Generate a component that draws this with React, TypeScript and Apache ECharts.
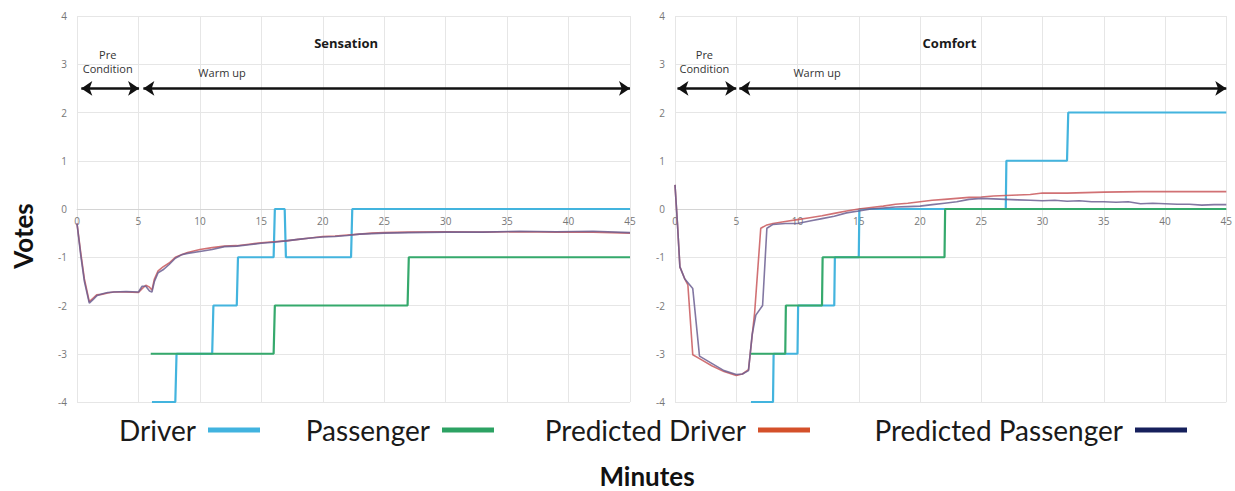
import React, { useEffect, useRef } from 'react';
import * as echarts from 'echarts';

type Pt = [number, number];

const seriesNames = ['Driver', 'Passenger', 'Predicted Driver', 'Predicted Passenger'];
const legendColors = ['#41b3df', '#2ca263', '#d4502a', '#16205c'];
const plotColors = ['#43b4de', '#35a96c', '#c9585c', '#6c5f92'];
const panelTitles = ['Sensation', 'Comfort'];

// Sensation panel
const sensationDriver: Pt[] = [
  [6.1, -4], [8, -4], [8.1, -3], [11, -3], [11.1, -2], [13, -2], [13.1, -1], [16, -1],
  [16.1, 0], [16.9, 0], [17, -1], [22.3, -1], [22.4, 0], [45, 0],
];
const sensationPassenger: Pt[] = [
  [6, -3], [16, -3], [16.1, -2], [26.9, -2], [27, -1], [45, -1],
];
const sensationPredDriver: Pt[] = [
  [0, -0.3], [0.3, -0.9], [0.6, -1.45], [1.0, -1.92], [1.3, -1.85], [1.6, -1.78], [2, -1.77],
  [2.5, -1.74], [3, -1.72], [4, -1.72], [5, -1.73], [5.3, -1.65], [5.6, -1.58], [5.9, -1.62],
  [6.1, -1.68], [6.3, -1.45], [6.6, -1.28], [7, -1.2], [7.5, -1.12], [8, -1.0], [8.5, -0.95],
  [9, -0.9], [10, -0.84], [11, -0.8], [12, -0.77], [13, -0.76], [14, -0.73], [15, -0.7],
  [16, -0.68], [17, -0.66], [18, -0.63], [19, -0.6], [20, -0.57], [21, -0.56], [22, -0.54],
  [23, -0.52], [24, -0.5], [25, -0.49], [27, -0.48], [30, -0.47], [33, -0.48], [36, -0.47],
  [39, -0.48], [42, -0.48], [45, -0.5],
];
const sensationPredPassenger: Pt[] = [
  [0, -0.3], [0.3, -0.95], [0.6, -1.5], [1.0, -1.95], [1.3, -1.88], [1.6, -1.8], [2, -1.76],
  [2.5, -1.73], [3, -1.72], [4, -1.71], [5, -1.72], [5.3, -1.6], [5.6, -1.6], [5.9, -1.7],
  [6.1, -1.72], [6.3, -1.5], [6.6, -1.32], [7, -1.26], [7.5, -1.15], [8, -1.02], [8.5, -0.95],
  [9, -0.92], [10, -0.88], [11, -0.84], [12, -0.78], [13, -0.77], [14, -0.74], [15, -0.71],
  [16, -0.69], [17, -0.66], [18, -0.63], [19, -0.6], [20, -0.58], [21, -0.57], [22, -0.55],
  [23, -0.52], [24, -0.51], [25, -0.5], [27, -0.49], [30, -0.48], [33, -0.48], [36, -0.46],
  [39, -0.47], [42, -0.46], [45, -0.49],
];

// Comfort panel
const comfortDriver: Pt[] = [
  [6.2, -4], [8, -4], [8.05, -3], [10, -3], [10.05, -2], [13, -2], [13.05, -1], [15, -1],
  [15.05, 0], [27, 0], [27.05, 1], [32, 1], [32.1, 2], [45, 2],
];
const comfortPassenger: Pt[] = [
  [6.2, -3], [9, -3], [9.05, -2], [12, -2], [12.05, -1], [22, -1], [22.05, 0], [45, 0],
];
const comfortPredDriver: Pt[] = [
  [0, 0.5], [0.2, -0.3], [0.4, -1.2], [0.8, -1.45], [1.05, -1.57], [1.45, -3.02], [2, -3.1],
  [3, -3.25], [4, -3.37], [5, -3.45], [5.5, -3.42], [6, -3.33], [6.5, -2.15], [7, -0.4],
  [7.5, -0.33], [8, -0.3], [9, -0.26], [10, -0.22], [11, -0.18], [12, -0.14], [13, -0.09],
  [14, -0.04], [15, 0.0], [16, 0.03], [17, 0.06], [18, 0.1], [19, 0.12], [20, 0.15],
  [21, 0.18], [22, 0.2], [23, 0.22], [24, 0.24], [25, 0.25], [26, 0.27], [27, 0.28],
  [28, 0.29], [29, 0.3], [30, 0.33], [32, 0.33], [35, 0.35], [38, 0.36], [40, 0.36],
  [42, 0.36], [45, 0.36],
];
const comfortPredPassenger: Pt[] = [
  [0, 0.5], [0.2, -0.3], [0.4, -1.2], [0.8, -1.45], [1.45, -1.65], [2.0, -3.05], [3, -3.2],
  [4, -3.35], [5, -3.43], [5.5, -3.42], [6, -3.35], [6.3, -2.6], [6.6, -2.2], [7.15, -2.0],
  [7.5, -0.4], [8, -0.32], [9, -0.3], [10, -0.3], [11, -0.25], [12, -0.2], [13, -0.15],
  [14, -0.08], [15, -0.04], [16, 0.0], [17, 0.02], [18, 0.04], [19, 0.05], [20, 0.06],
  [21, 0.09], [22, 0.12], [23, 0.15], [24, 0.2], [25, 0.22], [26, 0.21], [27, 0.2],
  [28, 0.19], [29, 0.18], [30, 0.17], [31, 0.18], [32, 0.16], [33, 0.17], [34, 0.15],
  [35, 0.15], [36, 0.14], [37, 0.15], [38, 0.11], [39, 0.12], [40, 0.11], [41, 0.1],
  [42, 0.1], [43, 0.08], [44, 0.09], [45, 0.09],
];

// phase arrows [start, end] in minutes at vote level 2.5
const sensationPhases: Pt[] = [[0.35, 5.05], [5.4, 45]];
const comfortPhases: Pt[] = [[0.2, 5.0], [5.25, 45]];
const arrowLevel = 2.5;

const panels = [
  {
    data: [sensationDriver, sensationPassenger, sensationPredDriver, sensationPredPassenger],
    phases: sensationPhases,
    titleAt: [21.9, 3.44] as Pt,
    preAt: [2.5, 3.06] as Pt,
    warmAt: [11.8, 2.82] as Pt,
  },
  {
    data: [comfortDriver, comfortPassenger, comfortPredDriver, comfortPredPassenger],
    phases: comfortPhases,
    titleAt: [22.4, 3.44] as Pt,
    preAt: [2.4, 3.06] as Pt,
    warmAt: [11.6, 2.82] as Pt,
  },
];

const legendIconRight = [260, 494, 810, 1187];

export default function App() {
  const ref = useRef<HTMLDivElement>(null);

  useEffect(() => {
    document.body.style.margin = '0';
    if (!ref.current) return;
    const chart = echarts.init(ref.current, undefined, { renderer: 'svg' });
    const W = 1235;
    const gridTop = 16;
    const gridHeight = 386;
    const yMin = -4;
    const yMax = 4;
    // the x axis sits on the vote = 0 line, as in the reference
    const zeroOffset = -gridHeight * (0 - yMin) / (yMax - yMin);

    const grids = [
      { left: 77, top: gridTop, width: 553, height: gridHeight },
      { left: 675, top: gridTop, width: 553, height: gridHeight },
    ];

    const xAxes = grids.map((_, i) => ({
      type: 'value',
      gridIndex: i,
      min: 0,
      max: 45,
      interval: 5,
      position: 'bottom',
      offset: zeroOffset,
      axisLine: { show: true, onZero: false, lineStyle: { color: '#d4d4d4', width: 1 } },
      axisTick: { show: false },
      axisLabel: {
        color: '#777',
        fontSize: 10,
        fontFamily: 'Open Sans',
        margin: 7,
        showMinLabel: true,
        showMaxLabel: true,
      },
      splitLine: { show: true, lineStyle: { color: '#e6e6e6', width: 1 } },
    }));

    const yAxes = grids.map((_, i) => ({
      type: 'value',
      gridIndex: i,
      min: yMin,
      max: yMax,
      interval: 1,
      axisLine: { show: false },
      axisTick: { show: false },
      axisLabel: { color: '#777', fontSize: 10, fontFamily: 'Open Sans', margin: 10 },
      splitLine: { show: true, lineStyle: { color: '#e6e6e6', width: 1 } },
    }));

    const series: any[] = [];
    panels.forEach((p, pi) => {
      p.data.forEach((d, si) => {
        const predicted = si >= 2;
        const s: any = {
          type: 'line',
          name: seriesNames[si],
          xAxisIndex: pi,
          yAxisIndex: pi,
          data: d,
          showSymbol: false,
          symbol: 'none',
          silent: true,
          z: predicted ? 3 : 2,
          itemStyle: { color: legendColors[si] },
          lineStyle: {
            color: plotColors[si],
            width: predicted ? 1.6 : 2.2,
            opacity: predicted ? 0.85 : 1,
          },
        };
        if (si === 0) {
          s.markLine = {
            silent: true,
            symbol: ['arrow', 'arrow'],
            symbolSize: [11, 11],
            label: { show: false },
            lineStyle: { color: '#111', width: 2.6, type: 'solid' },
            data: p.phases.map((ph) => [
              { coord: [ph[0], arrowLevel] },
              { coord: [ph[1], arrowLevel] },
            ]),
          };
          s.markPoint = {
            silent: true,
            symbol: 'circle',
            symbolSize: 1,
            itemStyle: { color: 'rgba(0,0,0,0)' },
            label: {
              show: true,
              position: 'inside',
              formatter: '{b}',
              color: '#333',
              fontFamily: 'Open Sans',
              fontSize: 11,
              lineHeight: 14,
            },
            data: [
              { name: 'Pre\nCondition', coord: p.preAt },
              { name: 'Warm up', coord: p.warmAt },
              {
                name: panelTitles[pi],
                coord: p.titleAt,
                label: { fontWeight: 'bold', fontSize: 13, color: '#1a1a1a' },
              },
            ],
          };
        }
        series.push(s);
      });
    });

    const legends = seriesNames.map((n, i) => ({
      data: [{ name: n, icon: 'rect', itemStyle: { color: legendColors[i] } }],
      right: W - legendIconRight[i],
      top: 416,
      align: 'right',
      orient: 'horizontal',
      padding: 0,
      itemWidth: 52,
      itemHeight: 5,
      selectedMode: false,
      textStyle: {
        fontFamily: 'Lato',
        fontSize: 28,
        color: '#1a1a1a',
        padding: [0, 7, 0, 0],
      },
    }));

    chart.setOption({
      animation: false,
      backgroundColor: '#fff',
      grid: grids,
      xAxis: xAxes,
      yAxis: yAxes,
      legend: legends,
      series,
      graphic: [
        {
          type: 'text',
          x: 23,
          y: 236,
          rotation: Math.PI / 2,
          style: {
            text: 'Votes',
            fontFamily: 'Lato',
            fontWeight: 'bold',
            fontSize: 26,
            fill: '#111',
            textAlign: 'center',
            textVerticalAlign: 'middle',
          },
        },
        {
          type: 'text',
          x: 647,
          y: 476,
          style: {
            text: 'Minutes',
            fontFamily: 'Lato',
            fontWeight: 'bold',
            fontSize: 26,
            fill: '#111',
            textAlign: 'center',
            textVerticalAlign: 'middle',
          },
        },
      ],
    });

    return () => {
      chart.dispose();
    };
  }, []);

  return <div ref={ref} style={{ width: 1235, height: 491 }} />;
}
